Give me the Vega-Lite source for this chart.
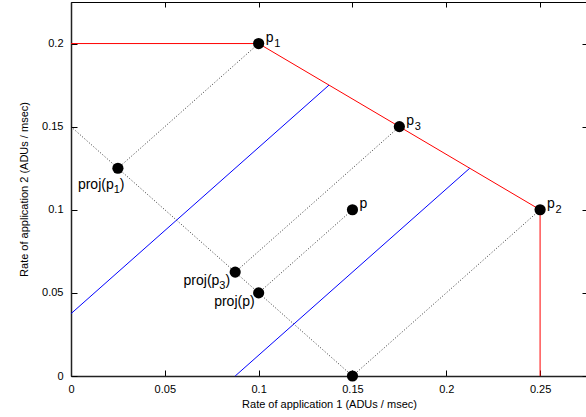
{
  "$schema": "https://vega.github.io/schema/vega-lite/v6.json",
  "width": 516,
  "height": 374,
  "autosize": "none",
  "padding": {"left": 71, "top": 2, "right": 0, "bottom": 41},
  "background": "white",
  "config": {
    "view": {"stroke": "#000", "strokeWidth": 1},
    "font": "Liberation Sans",
    "axis": {
      "grid": false,
      "domainColor": "#222",
      "domainWidth": 1.5,
      "tickColor": "#000",
      "labelColor": "#000",
      "titleColor": "#000",
      "labelFont": "Liberation Sans",
      "titleFont": "Liberation Sans",
      "labelFontSize": 11,
      "titleFontSize": 11,
      "titleFontWeight": "normal",
      "labelFlush": false,
      "tickSize": -6
    }
  },
  "datasets": {
    "frontier": [
      {"x": 0, "y": 0.2, "o": 1},
      {"x": 0.1, "y": 0.2, "o": 2},
      {"x": 0.175, "y": 0.15, "o": 3},
      {"x": 0.25, "y": 0.1, "o": 4},
      {"x": 0.25, "y": 0, "o": 5}
    ],
    "blue": [
      {"seg": "a", "x": 0, "y": 0.0375},
      {"seg": "a", "x": 0.1375, "y": 0.175},
      {"seg": "b", "x": 0.0875, "y": 0},
      {"seg": "b", "x": 0.2125, "y": 0.125}
    ],
    "dotted": [
      {"seg": "anti", "x": 0, "y": 0.15},
      {"seg": "anti", "x": 0.15, "y": 0},
      {"seg": "d1", "x": 0.025, "y": 0.125},
      {"seg": "d1", "x": 0.1, "y": 0.2},
      {"seg": "d3", "x": 0.0875, "y": 0.0625},
      {"seg": "d3", "x": 0.175, "y": 0.15},
      {"seg": "dp", "x": 0.1, "y": 0.05},
      {"seg": "dp", "x": 0.15, "y": 0.1},
      {"seg": "d2", "x": 0.15, "y": 0},
      {"seg": "d2", "x": 0.25, "y": 0.1}
    ],
    "points": [
      {"x": 0.1, "y": 0.2, "name": "p", "sub": "1", "side": "r"},
      {"x": 0.175, "y": 0.15, "name": "p", "sub": "3", "side": "r"},
      {"x": 0.15, "y": 0.1, "name": "p", "sub": "", "side": "r"},
      {"x": 0.25, "y": 0.1, "name": "p", "sub": "2", "side": "r"},
      {"x": 0.025, "y": 0.125, "name": "proj(p", "sub": "1", "side": "b"},
      {"x": 0.0875, "y": 0.0625, "name": "proj(p", "sub": "3", "side": "l"},
      {"x": 0.1, "y": 0.05, "name": "proj(p)", "sub": "", "side": "lp"},
      {"x": 0.15, "y": 0, "name": "", "sub": "", "side": "n"}
    ]
  },
  "encoding": {
    "x": {
      "field": "x", "type": "quantitative",
      "scale": {"domain": [0, 0.275], "nice": false, "zero": false},
      "axis": null
    },
    "y": {
      "field": "y", "type": "quantitative",
      "scale": {"domain": [0, 0.225], "nice": false, "zero": false},
      "axis": null
    }
  },
  "resolve": {"axis": {"x": "independent", "y": "independent"}},
  "layer": [
    {
      "data": {"name": "frontier"},
      "mark": {"type": "line", "color": "#ff0000", "strokeWidth": 1},
      "encoding": {
        "order": {"field": "o"},
        "x": {
          "field": "x", "type": "quantitative",
          "scale": {"domain": [0, 0.275], "nice": false, "zero": false},
          "axis": {"orient": "bottom", "values": [0, 0.05, 0.1, 0.15, 0.2, 0.25], "format": "~g", "title": "Rate of application 1 (ADUs / msec)", "labelPadding": 13, "titlePadding": 4}
        },
        "y": {
          "field": "y", "type": "quantitative",
          "scale": {"domain": [0, 0.225], "nice": false, "zero": false},
          "axis": {"orient": "left", "values": [0, 0.05, 0.1, 0.15, 0.2], "format": "~g", "title": "Rate of application 2 (ADUs / msec)", "labelPadding": 14, "titlePadding": 12}
        }
      }
    },
    {
      "data": {"name": "blue"},
      "mark": {"type": "line", "color": "#0000ff", "strokeWidth": 1},
      "encoding": {
        "detail": {"field": "seg"},
        "x": {
          "field": "x", "type": "quantitative",
          "scale": {"domain": [0, 0.275], "nice": false, "zero": false},
          "axis": {"orient": "top", "values": [0, 0.05, 0.1, 0.15, 0.2, 0.25], "labels": false, "title": null, "domain": false, "tickSize": -5}
        },
        "y": {
          "field": "y", "type": "quantitative",
          "scale": {"domain": [0, 0.225], "nice": false, "zero": false},
          "axis": {"orient": "right", "values": [0, 0.05, 0.1, 0.15, 0.2], "labels": false, "title": null, "domain": false, "tickSize": -5}
        }
      }
    },
    {
      "data": {"name": "dotted"},
      "mark": {"type": "line", "color": "#000", "strokeWidth": 0.8, "strokeDash": [1, 2]},
      "encoding": {"detail": {"field": "seg"}}
    },
    {
      "data": {"name": "points"},
      "mark": {"type": "point", "filled": true, "color": "#000", "opacity": 1, "size": 125}
    },
    {
      "data": {"name": "points"},
      "transform": [{"filter": "datum.side == 'r'"}],
      "mark": {"type": "text", "align": "left", "baseline": "alphabetic", "dx": 7, "dy": -2, "fontSize": 14, "color": "#000"},
      "encoding": {"text": {"field": "name"}}
    },
    {
      "data": {"name": "points"},
      "transform": [{"filter": "datum.side == 'r'"}],
      "mark": {"type": "text", "align": "left", "baseline": "alphabetic", "dx": 15.5, "dy": 3, "fontSize": 11, "color": "#000"},
      "encoding": {"text": {"field": "sub"}}
    },
    {
      "data": {"name": "points"},
      "transform": [{"filter": "datum.side == 'b'"}],
      "mark": {"type": "text", "align": "left", "baseline": "alphabetic", "dx": -40, "dy": 21, "fontSize": 14, "color": "#000"},
      "encoding": {"text": {"field": "name"}}
    },
    {
      "data": {"name": "points"},
      "transform": [{"filter": "datum.side == 'b'"}],
      "mark": {"type": "text", "align": "left", "baseline": "alphabetic", "dx": -4.2, "dy": 25, "fontSize": 11, "color": "#000"},
      "encoding": {"text": {"field": "sub"}}
    },
    {
      "data": {"name": "points"},
      "transform": [{"filter": "datum.side == 'b'"}],
      "mark": {"type": "text", "align": "left", "baseline": "alphabetic", "dx": 1.9, "dy": 21, "fontSize": 14, "color": "#000", "text": ")"}
    },
    {
      "data": {"name": "points"},
      "transform": [{"filter": "datum.side == 'l'"}],
      "mark": {"type": "text", "align": "right", "baseline": "alphabetic", "dx": -15.8, "dy": 13, "fontSize": 14, "color": "#000"},
      "encoding": {"text": {"field": "name"}}
    },
    {
      "data": {"name": "points"},
      "transform": [{"filter": "datum.side == 'l'"}],
      "mark": {"type": "text", "align": "right", "baseline": "alphabetic", "dx": -9.7, "dy": 17, "fontSize": 11, "color": "#000"},
      "encoding": {"text": {"field": "sub"}}
    },
    {
      "data": {"name": "points"},
      "transform": [{"filter": "datum.side == 'l'"}],
      "mark": {"type": "text", "align": "right", "baseline": "alphabetic", "dx": -5, "dy": 13, "fontSize": 14, "color": "#000", "text": ")"}
    },
    {
      "data": {"name": "points"},
      "transform": [{"filter": "datum.side == 'lp'"}],
      "mark": {"type": "text", "align": "right", "baseline": "alphabetic", "dx": -4, "dy": 13, "fontSize": 14, "color": "#000"},
      "encoding": {"text": {"field": "name"}}
    }
  ]
}
